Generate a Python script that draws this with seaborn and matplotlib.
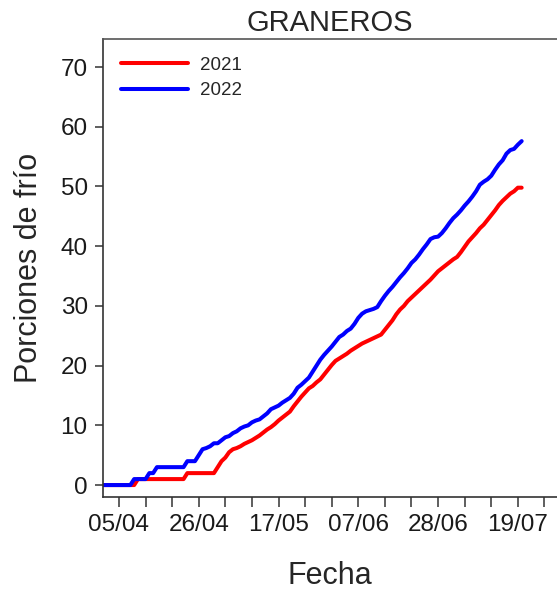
import numpy as np
import pandas as pd
import matplotlib
matplotlib.use("Agg")
import matplotlib.pyplot as plt
import matplotlib.dates as mdates
from matplotlib.ticker import FixedLocator
import seaborn as sns

# Cumulative chill portions, daily from 1 April
start_date = "2022-04-01"
porciones_2021 = [
    0, 0, 0, 0, 0, 0, 0, 0, 0, 1,
    1, 1, 1, 1, 1, 1, 1, 1, 1, 1,
    1, 1, 2, 2, 2, 2, 2, 2, 2, 2,
    3, 4, 4.6, 5.5, 6, 6.2, 6.5, 6.9, 7.2, 7.5,
    7.9, 8.3, 8.8, 9.3, 9.7, 10.2, 10.8, 11.3, 11.8, 12.3,
    13.2, 14, 14.8, 15.5, 16.2, 16.6, 17.2, 17.7, 18.5, 19.3,
    20.1, 20.8, 21.2, 21.6, 22, 22.5, 22.9, 23.3, 23.7, 24,
    24.3, 24.6, 24.9, 25.2, 26, 26.8, 27.6, 28.6, 29.4, 30,
    30.8, 31.4, 32, 32.6, 33.2, 33.8, 34.4, 35.1, 35.8, 36.3,
    36.8, 37.3, 37.8, 38.2, 39, 39.9, 40.8, 41.5, 42.2, 43,
    43.6, 44.4, 45.2, 46, 46.9, 47.6, 48.2, 48.8, 49.2, 49.8,
    49.8,
]
porciones_2022 = [
    0, 0, 0, 0, 0, 0, 0, 0, 1, 1,
    1, 1, 2, 2, 3, 3, 3, 3, 3, 3,
    3, 3, 4, 4, 4, 5, 6, 6.2, 6.5, 7,
    7, 7.5, 8, 8.2, 8.7, 9, 9.5, 9.8, 10, 10.5,
    10.8, 11, 11.5, 12, 12.7, 13, 13.3, 13.8, 14.2, 14.6,
    15.3, 16.3, 16.8, 17.4, 18, 19, 20, 21, 21.8, 22.5,
    23.2, 24, 24.8, 25.2, 25.8, 26.2, 27, 28, 28.7, 29.1,
    29.3, 29.5, 29.8, 30.8, 31.7, 32.5, 33.2, 34, 34.8, 35.5,
    36.3, 37.2, 37.8, 38.6, 39.5, 40.3, 41.2, 41.5, 41.6, 42.2,
    43, 43.9, 44.7, 45.3, 46, 46.8, 47.5, 48.3, 49.2, 50.3,
    50.8, 51.2, 51.8, 52.8, 53.7, 54.4, 55.5, 56.1, 56.3, 57,
    57.6,
]
series_labels = ["2021", "2022"]
series_colors = ["#FF0000", "#0000FF"]
x_tick_labels = ["05/04", "26/04", "17/05", "07/06", "28/06", "19/07"]
y_ticks = [0, 10, 20, 30, 40, 50, 60, 70]

fechas = pd.date_range(start_date, periods=len(porciones_2021), freq="D")
df = pd.concat([
    pd.DataFrame({"Fecha": fechas, "Porciones": porciones_2021, "Temporada": series_labels[0]}),
    pd.DataFrame({"Fecha": fechas, "Porciones": porciones_2022, "Temporada": series_labels[1]}),
], ignore_index=True)

sns.set_style("ticks")
plt.rcParams["font.family"] = ["Liberation Sans", "DejaVu Sans"]

fig = plt.figure(figsize=(5.57, 5.93), dpi=100)
ax = fig.add_axes([103 / 557, (593 - 497) / 593, (557 - 103) / 557, (497 - 39) / 593])

sns.lineplot(data=df, x="Fecha", y="Porciones", hue="Temporada",
             palette=dict(zip(series_labels, series_colors)),
             linewidth=2.9, ax=ax)

# Date axis: labelled ticks every 21 days, minor ticks weekly
base = pd.Timestamp("2022-04-05")
major = [base + pd.Timedelta(days=21 * i) for i in range(len(x_tick_labels))]
minor = [base + pd.Timedelta(days=7 * i) for i in range(17)]
ax.xaxis.set_major_locator(FixedLocator(mdates.date2num(major)))
ax.xaxis.set_minor_locator(FixedLocator(mdates.date2num(minor)))
ax.set_xticklabels(x_tick_labels)
t0 = mdates.date2num(pd.Timestamp(start_date))
ax.set_xlim(t0 - 0.2, t0 + 119.3)
ax.set_ylim(-2, 74.7)
ax.set_yticks(y_ticks)

ax.tick_params(axis="both", which="both", direction="out", length=7, width=1.1,
               color="#333333", labelsize=17.5, labelcolor="#1a1a1a", pad=5)
ax.tick_params(axis="y", length=6)

for side in ["left", "bottom", "top"]:
    ax.spines[side].set_visible(True)
    ax.spines[side].set_color("#333333")
    ax.spines[side].set_linewidth(1.2)
ax.spines["top"].set_color("#555555")
ax.spines["right"].set_visible(False)

ax.set_xlabel("Fecha", fontsize=22, labelpad=18)
ax.set_ylabel("Porciones de frío", fontsize=22, labelpad=12)
ax.set_title("GRANEROS", fontsize=21, pad=6)

leg = ax.legend(loc="upper left", frameon=False, fontsize=13.5, handlelength=3.6,
                handletextpad=0.65, labelspacing=0.45, borderaxespad=0.3,
                bbox_to_anchor=(0.01, 0.99))
for line in leg.get_lines():
    line.set_linewidth(2.9)

fig.savefig("out.png", dpi=100)
